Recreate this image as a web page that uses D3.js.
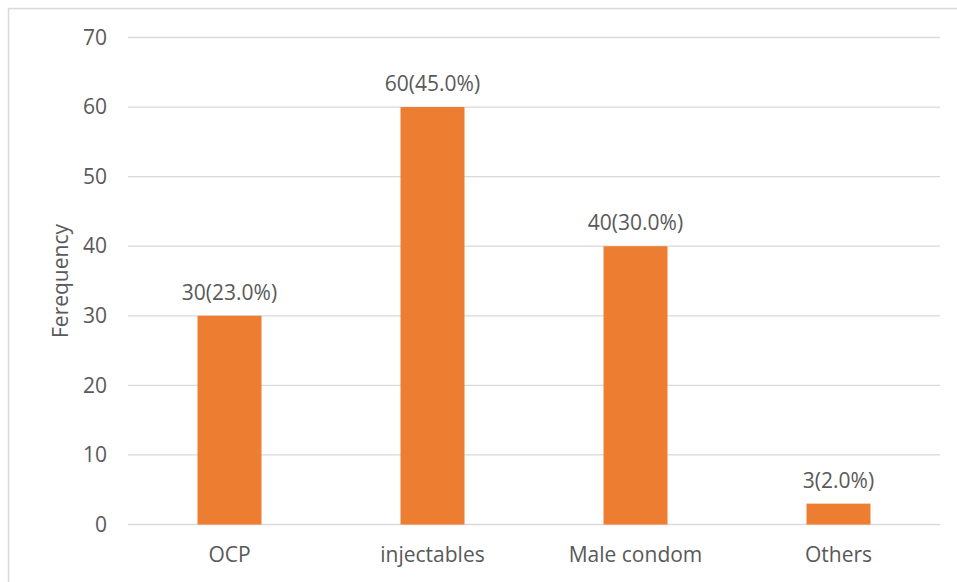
<!DOCTYPE html>
<html>
<head>
<meta charset="utf-8">
<script src="https://cdn.jsdelivr.net/npm/d3@7"></script>
<style>
  body { margin: 0; background: #fff; }
  svg text { font-family: "Open Sans", "Noto Sans", sans-serif; fill: #595959; }
</style>
</head>
<body>
<div id="chart"></div>
<script>
const categories = ["OCP", "injectables", "Male condom", "Others"];
const frequencies = [30, 60, 40, 3];
const percents = ["23.0%", "45.0%", "30.0%", "2.0%"];
const yTicks = [0, 10, 20, 30, 40, 50, 60, 70];

let W = 957, H = 582;
let fontSize = "21px";
let margin = {top: 37.5, right: 17, bottom: 57.5, left: 128},
    width = W - margin.left - margin.right,
    height = H - margin.top - margin.bottom;

let svg = d3.select("#chart").append("svg")
    .attr("width", W)
    .attr("height", H);

// outer chart frame
svg.append("rect")
    .attr("x", 8.5).attr("y", 8.5)
    .attr("width", W + 10).attr("height", H + 10)
    .attr("fill", "none")
    .attr("stroke", "#d9d9d9")
    .attr("stroke-width", 1.5);

let g = svg.append("g")
    .attr("transform", "translate(" + margin.left + "," + margin.top + ")");

let xScale = d3.scaleBand().domain(categories).range([0, width]).paddingInner(0).paddingOuter(0);
let yScale = d3.scaleLinear().domain([0, 70]).range([height, 0]);

// gridlines
g.selectAll(".grid")
    .data(yTicks)
    .enter().append("line")
    .attr("class", "grid")
    .attr("x1", 0).attr("x2", width)
    .attr("y1", d => yScale(d)).attr("y2", d => yScale(d))
    .attr("stroke", "#d9d9d9")
    .attr("stroke-width", 1.3);

// y axis labels
let yAxis = d3.axisLeft(yScale).tickValues(yTicks).tickSize(0).tickPadding(21);
let yg = g.append("g").call(yAxis);
yg.select(".domain").remove();
yg.selectAll("text").style("font-size", fontSize);

// x axis labels
let xAxis = d3.axisBottom(xScale).tickSize(0).tickPadding(23);
let xg = g.append("g").attr("transform", "translate(0," + height + ")").call(xAxis);
xg.select(".domain").remove();
xg.selectAll("text").style("font-size", fontSize);

let barW = 64;
g.selectAll(".bar")
    .data(frequencies)
    .enter().append("rect")
    .attr("class", "bar")
    .attr("x", (d, i) => xScale(categories[i]) + xScale.bandwidth() / 2 - barW / 2)
    .attr("y", d => yScale(d))
    .attr("width", barW)
    .attr("height", d => height - yScale(d))
    .attr("fill", "#ed7d31");

g.selectAll(".lbl")
    .data(frequencies)
    .enter().append("text")
    .attr("class", "lbl")
    .attr("x", (d, i) => xScale(categories[i]) + xScale.bandwidth() / 2)
    .attr("y", d => yScale(d) - 16)
    .attr("text-anchor", "middle")
    .style("font-size", fontSize)
    .text((d, i) => d + "(" + percents[i] + ")");

// y axis title
svg.append("text")
    .attr("transform", "translate(68," + (margin.top + height / 2) + ") rotate(-90)")
    .attr("text-anchor", "middle")
    .style("font-size", fontSize)
    .text("Ferequency");
</script>
</body>
</html>
